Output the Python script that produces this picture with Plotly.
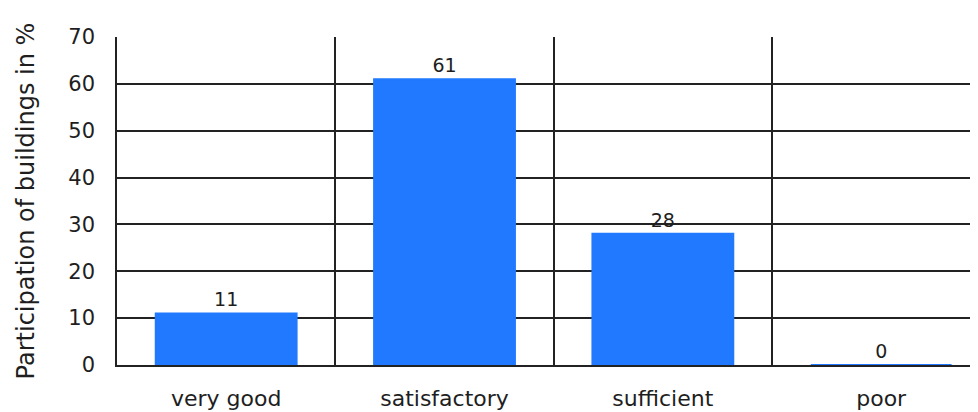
import plotly.graph_objects as go

categories = ["very good", "satisfactory", "sufficient", "poor"]
values = [11, 61, 28, 0]
y_ticks = [0, 10, 20, 30, 40, 50, 60, 70]

FONT = "DejaVu Sans"
BLUE = "#2079ff"
GRID = "#222222"
TXT = "#1e1e1e"

fig = go.Figure(
    go.Bar(
        x=categories,
        y=values,
        width=0.645,
        marker=dict(color=BLUE, line=dict(color=BLUE, width=2)),
        text=[str(v) for v in values],
        textposition="outside",
        textfont=dict(family=FONT, size=19, color=TXT),
        cliponaxis=False,
    )
)

# the page body adds an 8px offset; margins compensate so the plot area
# lands at the same place as in the reference
fig.update_layout(
    width=978,
    height=412,
    margin=dict(l=109, r=0, t=29, b=55, autoexpand=False),
    plot_bgcolor="white",
    paper_bgcolor="white",
    showlegend=False,
    font=dict(family=FONT, color=TXT),
)

fig.update_xaxes(
    range=[-0.5, 3.48],
    tickson="boundaries",
    showgrid=True,
    gridcolor=GRID,
    gridwidth=1.6,
    showline=True,
    linecolor=GRID,
    linewidth=1.6,
    layer="below traces",
    ticks="",
    automargin=False,
    ticklabelstandoff=13,
    tickfont=dict(family=FONT, size=22, color=TXT),
    fixedrange=True,
)

fig.update_yaxes(
    range=[0, 70],
    tickvals=y_ticks,
    showgrid=True,
    gridcolor=GRID,
    gridwidth=1.6,
    zeroline=False,
    showline=True,
    linecolor=GRID,
    linewidth=1.6,
    layer="below traces",
    ticks="",
    automargin=False,
    ticklabelstandoff=16,
    tickfont=dict(family=FONT, size=21, color=TXT),
    title=dict(text="Participation of buildings in %", font=dict(family=FONT, size=24, color=TXT), standoff=27),
    fixedrange=True,
)

fig.write_html("out.html")
